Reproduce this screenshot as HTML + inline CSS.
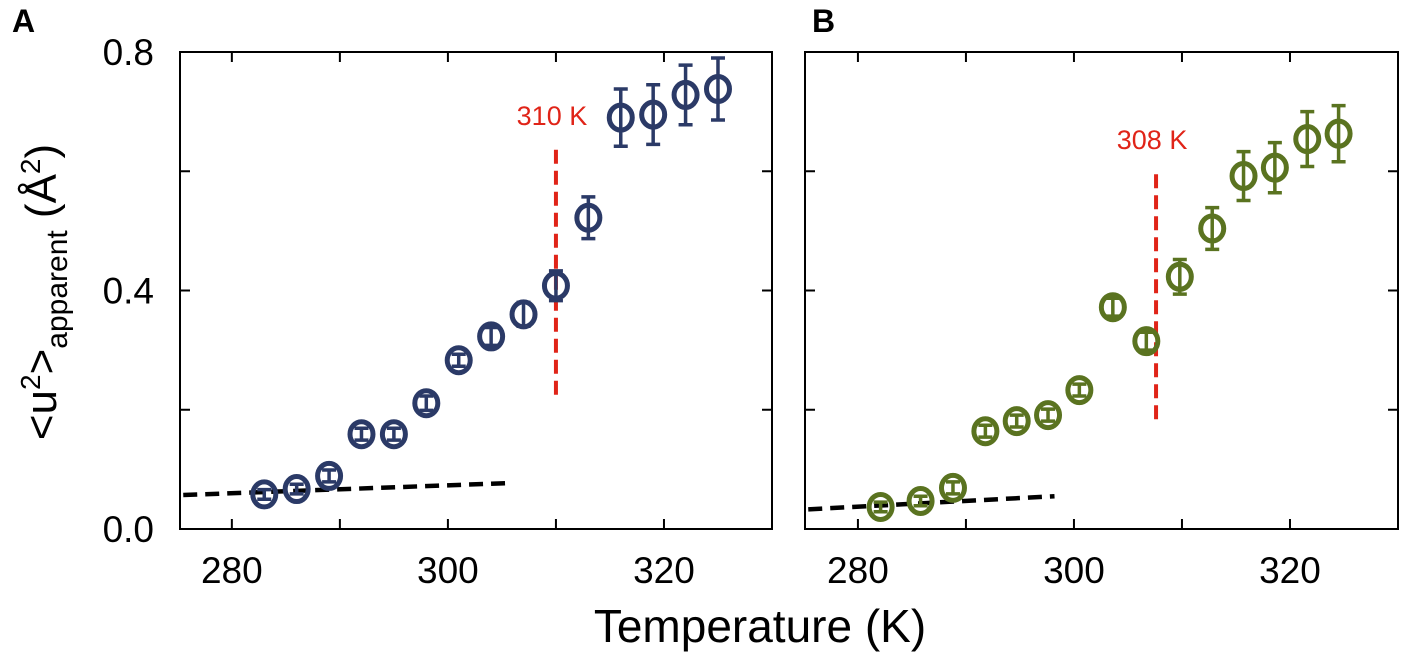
<!DOCTYPE html>
<html><head><meta charset="utf-8">
<style>
html,body{margin:0;padding:0;background:#fff;}
svg{display:block;font-family:"Liberation Sans",sans-serif;}
</style></head>
<body>
<svg id="chart" width="1402" height="655" viewBox="0 0 1402 655" xmlns="http://www.w3.org/2000/svg"></svg>
<script>
// Panel A data
const tempsA = [283,286,289,292,295,298,301,304,307,310,313,316,319,322,325];
const valuesA = [0.058,0.067,0.089,0.159,0.159,0.211,0.283,0.323,0.360,0.408,0.522,0.690,0.695,0.728,0.738];
const errorsA = [0.008,0.008,0.01,0.01,0.01,0.012,0.01,0.015,0.02,0.025,0.035,0.048,0.05,0.05,0.052];
const fitA = [[275.5,0.057],[305.6,0.077]];
const transitionA = [310,0.636,0.221];
// Panel B data
const tempsB = [282.1,285.8,288.8,291.8,294.7,297.6,300.5,303.6,306.7,309.8,312.8,315.7,318.6,321.6,324.5];
const valuesB = [0.037,0.047,0.069,0.164,0.181,0.191,0.233,0.372,0.315,0.423,0.504,0.592,0.606,0.654,0.663];
const errorsB = [0.008,0.008,0.01,0.01,0.01,0.01,0.01,0.015,0.015,0.029,0.035,0.041,0.042,0.046,0.047];
const fitB = [[275.4,0.033],[298.2,0.055]];
const transitionB = [307.6,0.595,0.18];
const xTicks = [280,290,300,310,320];
const xTickLabels = ["280","","300","","320"];
const yTicks = [0,0.2,0.4,0.6,0.8];
const yTickLabels = ["0.0","","0.4","","0.8"];

const NS="http://www.w3.org/2000/svg";
const svg=document.getElementById('chart');
function mk(tag,attrs,parent){const e=document.createElementNS(NS,tag);for(const k in attrs)e.setAttribute(k,attrs[k]);(parent||svg).appendChild(e);return e;}

function panel(cfg){
  const {left,right,top,bottom,xmin,xmax,temps,vals,errs,fit,trans,color,label,letter,letterX,showY,name}=cfg;
  const g=mk('g',{});
  
  
  const sx=t=>left+(t-xmin)/(xmax-xmin)*(right-left);
  const sy=v=>bottom-(v/0.8)*(bottom-top);
  const box=mk('rect',{x:left,y:top,width:right-left,height:bottom-top,fill:'none',stroke:'#000','stroke-width':2},g);
  
  
  xTicks.forEach((t,i)=>{
    const x=sx(t);
    const tk=mk('path',{d:`M${x},${bottom}v-10M${x},${top}v10`,stroke:'#000','stroke-width':2},g);
    
    
    if(xTickLabels[i]){
      const tl=mk('text',{x:x,y:bottom+54,'font-size':37,'text-anchor':'middle',fill:'#000'},g);
      tl.textContent=xTickLabels[i];
      
      
    }
  });
  yTicks.forEach((v,i)=>{
    const y=sy(v);
    const tk=mk('path',{d:`M${left},${y}h10M${right},${y}h-10`,stroke:'#000','stroke-width':2},g);
    
    
    if(showY&&yTickLabels[i]){
      const tl=mk('text',{x:left-26,y:y+13,'font-size':37,'text-anchor':'end',fill:'#000'},g);
      tl.textContent=yTickLabels[i];
      
      
    }
  });
  const fl=mk('line',{x1:sx(fit[0][0]),y1:sy(fit[0][1]),x2:sx(fit[1][0]),y2:sy(fit[1][1]),stroke:'#000','stroke-width':4.5,'stroke-dasharray':'14,8'},g);
  
  
  const tr=mk('line',{x1:sx(trans[0]),y1:sy(trans[1]),x2:sx(trans[0]),y2:sy(trans[2]),stroke:'#e02418','stroke-width':4,'stroke-dasharray':'14,7'},g);
  
  
  const tt=mk('text',{x:sx(trans[0])-4,y:sy(trans[1])-25,'font-size':27,'text-anchor':'middle',fill:'#e02418'},g);
  tt.textContent=label;
  
  
  temps.forEach((t,i)=>{
    const x=sx(t),y=sy(vals[i]),y1=sy(vals[i]+errs[i]),y2=sy(vals[i]-errs[i]);
    const eb=mk('path',{d:`M${x},${y1}V${y2}M${x-7},${y1}h14M${x-7},${y2}h14`,stroke:color,'stroke-width':3.5,fill:'none'},g);
    
    
    const c=mk('ellipse',{cx:x,cy:y,rx:11.5,ry:12.5,fill:'none',stroke:color,'stroke-width':5},g);
    
    
  });
  const lt=mk('text',{x:letterX,y:32,'font-size':32,'font-weight':'bold',fill:'#000'},g);
  lt.textContent=letter;
  
  
}
panel({left:180,right:772,top:52,bottom:529,xmin:275.2,xmax:330,temps:tempsA,vals:valuesA,errs:errorsA,fit:fitA,trans:transitionA,color:'#2b3a67',label:'310 K',letter:'A',letterX:12,showY:true,name:'panel-a'});
panel({left:805,right:1398,top:52,bottom:529,xmin:275.1,xmax:330,temps:tempsB,vals:valuesB,errs:errorsB,fit:fitB,trans:transitionB,color:'#5a7320',label:'308 K',letter:'B',letterX:812,showY:false,name:'panel-b'});

const yt=mk('text',{transform:'translate(56,292) rotate(-90)','font-size':44,'text-anchor':'middle',fill:'#000'});
yt.innerHTML='&lt;u<tspan font-size="28" dy="-16">2</tspan><tspan dy="16">&gt;</tspan><tspan font-size="30" dy="11">apparent</tspan><tspan dy="-11"> (Å</tspan><tspan font-size="28" dy="-16">2</tspan><tspan dy="16">)</tspan>';


const xt=mk('text',{x:760,y:642,'font-size':46,'text-anchor':'middle',fill:'#000'});
xt.textContent='Temperature (K)';


</script>
</body></html>
